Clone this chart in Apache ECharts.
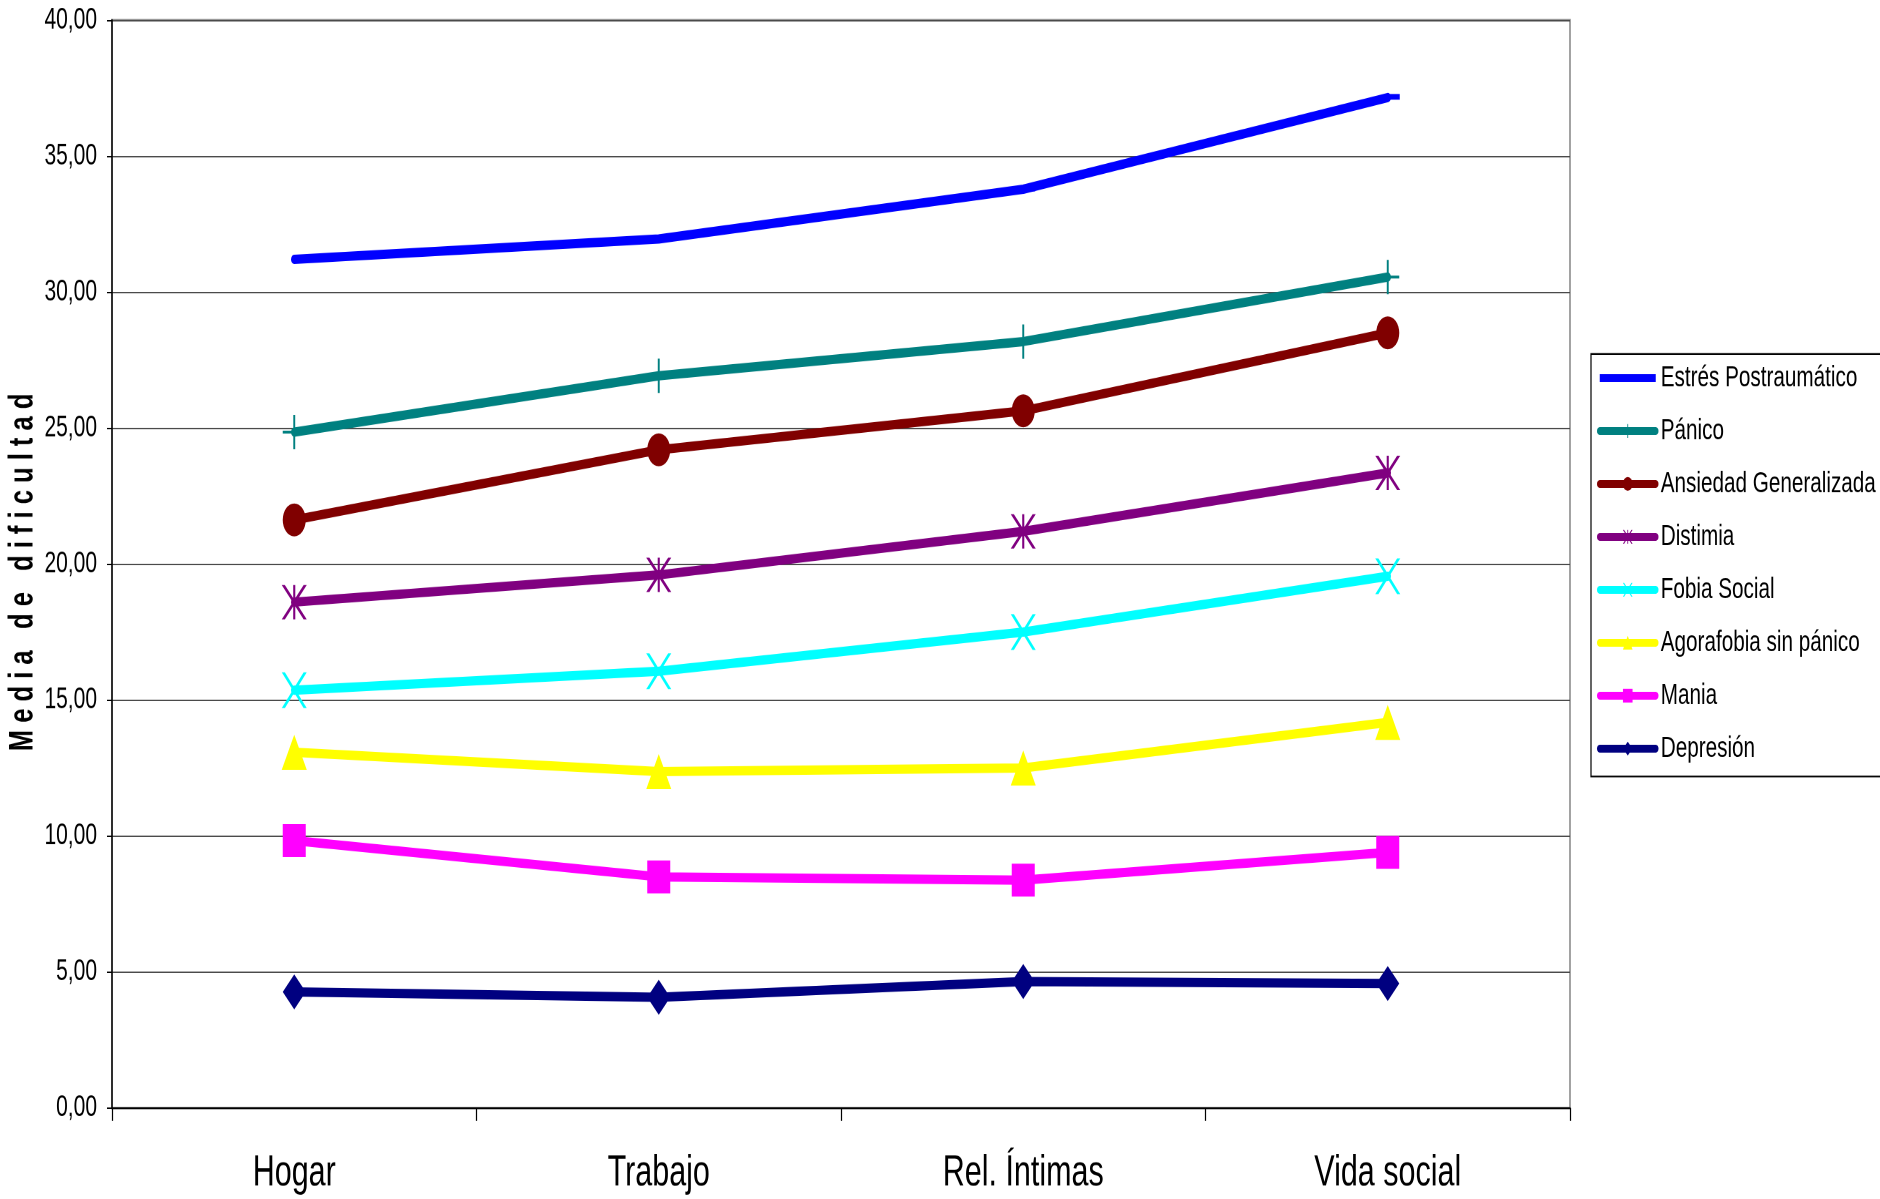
<!DOCTYPE html>
<html>
<head>
<meta charset="utf-8">
<script src="https://cdn.jsdelivr.net/npm/echarts@6/dist/echarts.min.js"></script>
<style>
  html, body { margin: 0; padding: 0; background: #ffffff; }
  #frame { width: 1880px; height: 1199px; position: relative; }
  /* the chart is laid out on a shorter canvas and stretched vertically */
  #chart { position: absolute; left: 0; top: 0; width: 1880px; height: 838px; transform: scaleY(1.4308); transform-origin: 0 0; }
</style>
</head>
<body>
<div id="frame"><div id="chart"></div></div>
<script>
// Mean difficulty per life area, one array per diagnosis
const categories = ['Hogar', 'Trabajo', 'Rel. Íntimas', 'Vida social'];
const estresPostraumatico = [31.20, 31.95, 33.78, 37.15];
const panico = [24.85, 26.92, 28.18, 30.55];
const ansiedadGeneralizada = [21.62, 24.20, 25.63, 28.50];
const distimia = [18.60, 19.60, 21.20, 23.35];
const fobiaSocial = [15.36, 16.06, 17.50, 19.55];
const agorafobiaSinPanico = [13.08, 12.37, 12.50, 14.18];
const mania = [9.83, 8.50, 8.38, 9.40];
const depresion = [4.27, 4.07, 4.65, 4.58];

const yTicks = { min: 0, max: 40, step: 5 };
const yTitle = 'M e d i a   d e   d i f i c u l t a d';

const FONT = "'Liberation Sans', Arial, sans-serif";

// Thin-stroke marker shapes built as filled outlines
const PLUS = 'path://M11,0H13V24H11Z M0,11H24V13H0Z';
const STAR = 'path://M11,0H13V24H11Z M0,0L3,0L24,24L21,24Z M21,0L24,0L3,24L0,24Z';
const CROSS = 'path://M0,0L3,0L24,24L21,24Z M21,0L24,0L3,24L0,24Z';

function line(name, data, color, symbol, size, extra) {
  return Object.assign({
    name: name,
    type: 'line',
    data: data,
    symbol: symbol,
    symbolSize: size,
    symbolKeepAspect: false,
    color: color,
    lineStyle: { width: 6.5, color: color, cap: 'round', join: 'round' },
    itemStyle: { color: color },
    emphasis: { disabled: true },
    animation: false
  }, extra || {});
}

const series = [
  line('Estrés Postraumático', estresPostraumatico, '#0000ff', 'rect', [12, 4], { symbolOffset: [6, -0.5] }),
  line('Pánico', panico, '#008080', PLUS, [23, 24]),
  line('Ansiedad Generalizada', ansiedadGeneralizada, '#800000', 'circle', [23, 23]),
  line('Distimia', distimia, '#800080', STAR, [25, 24]),
  line('Fobia Social', fobiaSocial, '#00ffff', CROSS, [25, 25]),
  line('Agorafobia sin pánico', agorafobiaSinPanico, '#ffff00', 'triangle', [25, 24.5]),
  line('Mania', mania, '#ff00ff', 'rect', [23, 23]),
  line('Depresión', depresion, '#000080', 'diamond', [23, 24.5])
];

const legendData = series.map(s => s.name === 'Estrés Postraumático'
  ? { name: s.name, icon: 'path://M0,0H56V5.5H0Z' }
  : { name: s.name });

const chart = echarts.init(document.getElementById('chart'), null, { renderer: 'canvas', devicePixelRatio: 2 });
chart.setOption({
  animation: false,
  backgroundColor: '#ffffff',
  grid: {
    left: 112, right: 310, top: 14, bottom: 63.6,
    show: true, borderColor: '#8c8c8c', borderWidth: 1.6, backgroundColor: 'transparent'
  },
  legend: {
    orient: 'vertical',
    left: 1591, top: 247.4,
    padding: [6.3, 7, 9, 6],
    itemWidth: 56, itemHeight: 12, itemGap: 16,
    backgroundColor: '#ffffff',
    borderColor: '#000000', borderWidth: 1.2, borderRadius: 0,
    lineStyle: { width: 5.5 },
    textStyle: { fontFamily: FONT, fontSize: 20.7, lineHeight: 21, color: '#000000' },
    data: legendData,
    selectedMode: false
  },
  graphic: [{
    type: 'text',
    x: 23, y: 400,
    rotation: Math.PI / 2,
    scaleX: 0.525,
    silent: true,
    style: {
      text: yTitle,
      font: "bold 34px 'Liberation Sans', Arial, sans-serif",
      fill: '#000000',
      align: 'center',
      verticalAlign: 'middle'
    }
  }],
  xAxis: {
    type: 'category',
    data: categories,
    boundaryGap: true,
    axisLine: { lineStyle: { color: '#000000', width: 1.2 } },
    axisTick: { show: true, length: 9, inside: false, lineStyle: { color: '#000000', width: 1.2 } },
    axisLabel: { fontFamily: FONT, fontSize: 30.5, color: '#000000', margin: 30 },
    splitLine: { show: false }
  },
  yAxis: {
    type: 'value',
    min: yTicks.min, max: yTicks.max, interval: yTicks.step,
    axisLine: { show: true, lineStyle: { color: '#000000', width: 1.5 } },
    axisTick: { show: true, length: 5, lineStyle: { color: '#000000', width: 1 } },
    axisLabel: {
      fontFamily: FONT, fontSize: 21, color: '#000000', margin: 15,
      formatter: v => v.toFixed(2).replace('.', ',')
    },
    splitLine: { show: true, lineStyle: { color: '#4a4a4a', width: 1 } }
  },
  series: series
});
</script>
</body>
</html>
